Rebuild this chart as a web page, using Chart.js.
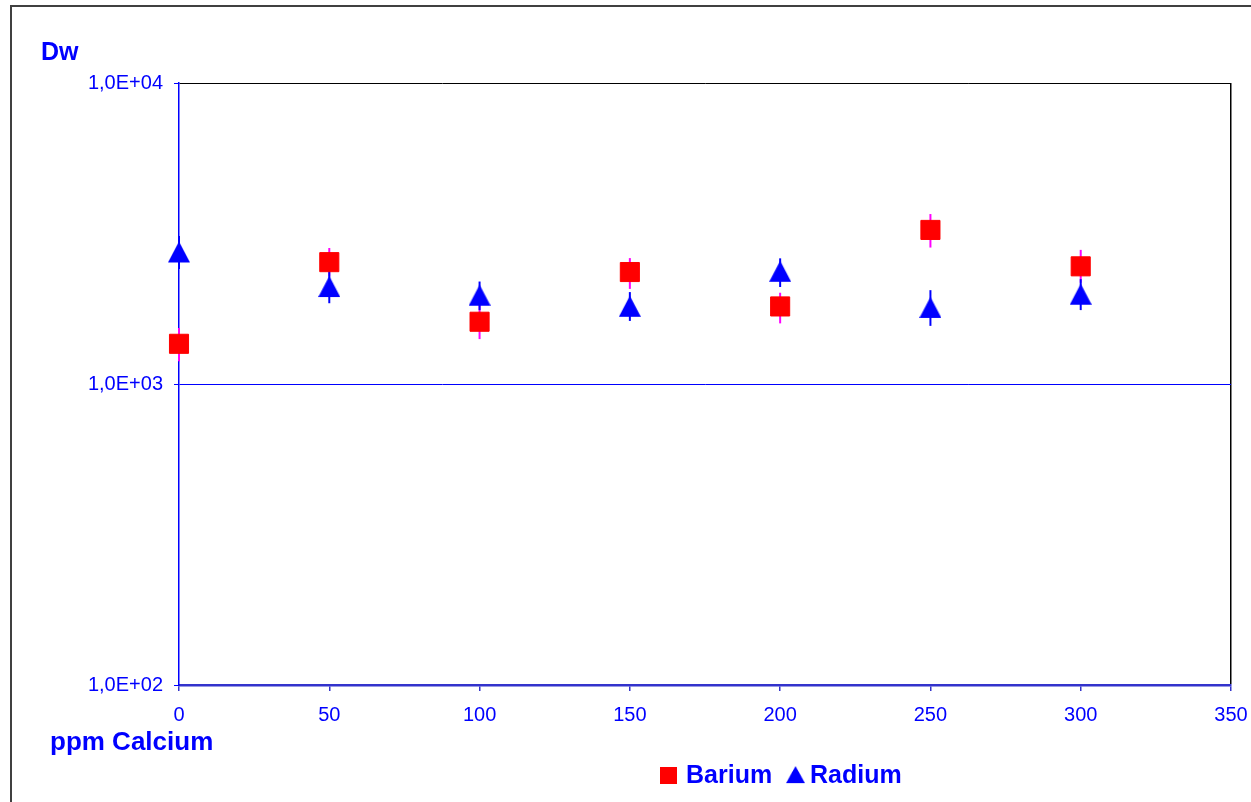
<!DOCTYPE html>
<html>
<head>
<meta charset="UTF-8">
<title>Dw</title>
<script src="https://cdn.jsdelivr.net/npm/chart.js"></script>
<style>
  body { margin: 0; background: #fff; }
  #wrap { position: relative; width: 1251px; height: 802px; overflow: hidden; }
  #frame { position: absolute; left: 10px; top: 5px; width: 1300px; height: 900px;
           border-left: 2px solid #404040; border-top: 2px solid #404040; }
  canvas { position: absolute; left: 0; top: 0; }
</style>
</head>
<body>
<div id="wrap">
  <div id="frame"></div>
  <canvas id="grafico" width="1251" height="802"></canvas>
</div>
<script>
  // valores
  const calcium = [0, 50, 100, 150, 200, 250, 300]
  const bariumDw = [1360, 2540, 1610, 2355, 1810, 3250, 2460]
  const bariumLow = [1190, 2280, 1410, 2070, 1590, 2840, 2170]
  const bariumHigh = [1535, 2830, 1830, 2620, 2010, 3670, 2790]
  const radiumDw = [2735, 2100, 1965, 1805, 2360, 1790, 1980]
  const radiumLow = [2410, 1855, 1760, 1620, 2100, 1560, 1760]
  const radiumHigh = [3100, 2380, 2190, 2020, 2615, 2050, 2230]
  const yTicks = [100, 1000, 10000]
  const yTitle = 'Dw'
  const xTitle = 'ppm Calcium'
  const seriesNames = ['Barium', 'Radium']

  const azul = '#0000ff'
  const vermelho = '#ff0000'
  const magenta = '#ff00ff'

  // triangulo centrado (igual ao marcador do excel)
  const tri = document.createElement('canvas')
  tri.width = 22; tri.height = 22
  const tc = tri.getContext('2d')
  tc.fillStyle = azul
  tc.beginPath(); tc.moveTo(11, 0); tc.lineTo(22, 21); tc.lineTo(0, 21); tc.closePath(); tc.fill()

  function fmt(v) {
    const e = Math.round(Math.log10(v))
    return '1,0E+' + String(e).padStart(2, '0')
  }

  const erros = {
    id: 'erros',
    beforeDatasetsDraw(chart) {
      const c = chart.ctx, xs = chart.scales.x, ys = chart.scales.y
      const sets = [[bariumLow, bariumHigh, magenta], [radiumLow, radiumHigh, azul]]
      c.save()
      c.lineWidth = 2
      sets.forEach(function (s) {
        c.strokeStyle = s[2]
        for (let i = 0; i < calcium.length; i++) {
          const x = xs.getPixelForValue(calcium[i])
          c.beginPath()
          c.moveTo(x, ys.getPixelForValue(s[0][i]))
          c.lineTo(x, ys.getPixelForValue(s[1][i]))
          c.stroke()
        }
      })
      c.restore()
    }
  }

  const textos = {
    id: 'textos',
    afterDraw(chart) {
      const c = chart.ctx
      c.save()
      c.fillStyle = azul
      c.textBaseline = 'alphabetic'
      c.font = 'bold 25px "Liberation Sans", Arial, sans-serif'
      c.fillText(yTitle, 41, 60)
      c.font = 'bold 26px "Liberation Sans", Arial, sans-serif'
      c.fillText(xTitle, 50, 750)
      // legenda
      c.font = 'bold 25px "Liberation Sans", Arial, sans-serif'
      c.fillStyle = vermelho
      c.fillRect(660, 767, 17, 17)
      c.drawImage(tri, 0, 0, 22, 22, 786, 766, 19, 18)
      c.fillStyle = azul
      c.fillText(seriesNames[0], 686, 783)
      c.fillText(seriesNames[1], 810, 783)
      c.restore()
    }
  }

  new Chart(document.getElementById('grafico'), {
    type: 'scatter',
    data: {
      datasets: [{
        label: seriesNames[0],
        data: calcium.map((x, i) => ({ x: x, y: bariumDw[i] })),
        pointStyle: 'rect',
        pointRadius: 13.5,
        backgroundColor: vermelho,
        borderColor: vermelho,
        borderWidth: 1,
        clip: false
      }, {
        label: seriesNames[1],
        data: calcium.map((x, i) => ({ x: x, y: radiumDw[i] })),
        pointStyle: tri,
        pointRadius: 11,
        backgroundColor: azul,
        borderColor: azul,
        clip: false
      }]
    },
    options: {
      responsive: false,
      animation: false,
      layout: { padding: { top: 83, right: 20, left: 0, bottom: 0 } },
      plugins: { legend: { display: false }, tooltip: { enabled: false } },
      scales: {
        x: {
          type: 'linear', min: 0, max: 350,
          afterFit(s) { s.height = 117; s.paddingRight = 0; s.paddingLeft = 0 },
          ticks: { stepSize: 50, color: azul, padding: 12, maxRotation: 0,
                   font: { family: '"Liberation Sans", Arial, sans-serif', size: 20 } },
          grid: {
            tickLength: 6, tickColor: '#3333cc', tickWidth: 1.5,
            color: ctx => (ctx.tick && ctx.tick.value === 350) ? '#000000' : 'rgba(0,0,0,0)',
            lineWidth: 1.5
          },
          border: { color: '#3333cc', width: 2.5 }
        },
        y: {
          type: 'logarithmic', min: 100, max: 10000,
          afterFit(s) { s.width = 179; s.paddingTop = 0; s.paddingBottom = 0 },
          afterBuildTicks(s) { s.ticks = yTicks.map(v => ({ value: v })) },
          ticks: { color: azul, padding: 11, callback: v => fmt(v),
                   font: { family: '"Liberation Sans", Arial, sans-serif', size: 20 } },
          grid: {
            tickLength: 5, tickColor: azul,
            color: ctx => {
              if (!ctx.tick) return 'rgba(0,0,0,0)'
              if (ctx.tick.value === 10000) return '#000000'
              if (ctx.tick.value === 1000) return azul
              return 'rgba(0,0,0,0)'
            }
          },
          border: { color: azul, width: 1.5 }
        }
      }
    },
    plugins: [erros, textos]
  });
</script>
</body>
</html>
